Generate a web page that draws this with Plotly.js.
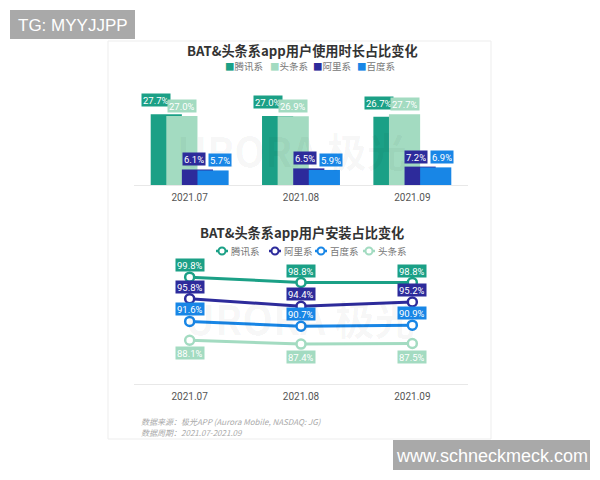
<!DOCTYPE html>
<html>
<head>
<meta charset="utf-8">
<script src="https://cdn.plot.ly/plotly-3.0.1.min.js"></script>
<style>html,body{margin:0;padding:0;background:#fff;}#chart{width:600px;height:480px;}</style>
</head>
<body>
<div id="chart"></div>
<script>
// ---- data ----
const months = ['2021.07', '2021.08', '2021.09'];
const durNames = ['腾讯系', '头条系', '阿里系', '百度系'];
const durTencent = [27.7, 27.0, 26.7];
const durToutiao = [27.0, 26.9, 27.7];
const durAli = [6.1, 6.5, 7.2];
const durBaidu = [5.7, 5.9, 6.9];
const instNames = ['腾讯系', '阿里系', '百度系', '头条系'];
const instTencent = [99.8, 98.8, 98.8];
const instAli = [95.8, 94.4, 95.2];
const instBaidu = [91.6, 90.7, 90.9];
const instToutiao = [88.1, 87.4, 87.5];
const title1 = 'BAT&头条系app用户使用时长占比变化';
const title2 = 'BAT&头条系app用户安装占比变化';
const source1 = '数据来源：极光APP (Aurora Mobile, NASDAQ: JG)';
const source2 = '数据周期：2021.07-2021.09';

// ---- styles ----
const C = {tencent: '#1ba086', toutiao: '#a3dbc1', ali: '#2d2b9b', baidu: '#1886e6'};
const W = 600, H = 480;
const px = x => x / W, py = y => 1 - y / H;
const xs = months.map((m, i) => i);
const CJK = '"Noto Sans CJK SC", "Noto Sans", sans-serif';
const NUM = 'Roboto, "Noto Sans", sans-serif';

const durSeries = [
  {name: durNames[0], vals: durTencent, color: C.tencent, offset: -0.35, lab: -0.30, ys: 7},
  {name: durNames[1], vals: durToutiao, color: C.toutiao, offset: -0.21, lab: -0.07, ys: 3},
  {name: durNames[2], vals: durAli, color: C.ali, offset: -0.07, lab: 0.035, ys: 3},
  {name: durNames[3], vals: durBaidu, color: C.baidu, offset: 0.07, lab: 0.27, ys: 3}
];
const instSeries = [
  {name: instNames[0], vals: instTencent, color: C.tencent, ys: 12},
  {name: instNames[1], vals: instAli, color: C.ali, ys: 12},
  {name: instNames[2], vals: instBaidu, color: C.baidu, ys: 12},
  {name: instNames[3], vals: instToutiao, color: C.toutiao, ys: -13}
];

const traces = [];
const annotations = [];
const shapes = [];

function paperText(x, y, text, font, xanchor) {
  annotations.push({xref: 'paper', yref: 'paper', x: px(x), y: py(y), text: text, showarrow: false,
    xanchor: xanchor || 'center', yanchor: 'middle', font: font});
}

// card background
shapes.push({type: 'rect', xref: 'paper', yref: 'paper', x0: px(108), x1: px(491), y0: py(439), y1: py(41),
  fillcolor: '#ffffff', line: {color: '#ededed', width: 1}, layer: 'below'});

// watermarks (faint logo text)
paperText(292, 150, 'URORA 极光', {family: CJK, size: 40, color: 'rgba(0,0,0,0.04)', weight: 'bold'});
paperText(300, 318, 'URORA 极光', {family: CJK, size: 40, color: 'rgba(0,0,0,0.04)', weight: 'bold'});

durSeries.forEach(s => {
  traces.push({type: 'bar', x: xs, y: s.vals, name: s.name, width: 0.28, offset: s.offset,
    marker: {color: s.color}, xaxis: 'x', yaxis: 'y', hoverinfo: 'skip', showlegend: false});
  s.vals.forEach((v, i) => {
    annotations.push({xref: 'x', yref: 'y', x: xs[i] + s.lab, y: v, xanchor: 'center', yanchor: 'bottom', yshift: s.ys,
      text: v.toFixed(1) + '%', showarrow: false, bgcolor: s.color, borderpad: 1, height: 10,
      font: {family: NUM, size: 9.5, color: '#ffffff'}});
  });
});

instSeries.forEach(s => {
  traces.push({type: 'scatter', mode: 'lines+markers', x: xs, y: s.vals, name: s.name,
    line: {color: s.color, width: 3}, cliponaxis: false,
    marker: {symbol: 'circle', size: 9, color: '#ffffff', line: {color: s.color, width: 2.5}},
    xaxis: 'x2', yaxis: 'y2', hoverinfo: 'skip', showlegend: false});
});
instSeries.forEach(s => {
  s.vals.forEach((v, i) => {
    annotations.push({xref: 'x2', yref: 'y2', x: xs[i], y: v, xanchor: 'center', yanchor: 'middle', yshift: s.ys,
      text: v.toFixed(1) + '%', showarrow: false, bgcolor: s.color, borderpad: 1, height: 10,
      font: {family: NUM, size: 9.5, color: '#ffffff'}});
  });
});

// titles
paperText(302, 51, '<b>' + title1.replace('&', '&amp;') + '</b>', {family: CJK, size: 13.2, color: '#333333'});
paperText(302, 233, '<b>' + title2.replace('&', '&amp;') + '</b>', {family: CJK, size: 13.2, color: '#333333'});

// top legend (square swatches)
const topLegX = [223, 268, 311, 355];
durSeries.forEach((s, k) => {
  paperText(topLegX[k], 66, '<span style="color:' + s.color + '">■</span>' + s.name,
    {family: CJK, size: 9.5, color: '#777777'}, 'left');
});
// bottom legend (line + hollow circle)
const botLegX = [216, 269, 315, 363];
instSeries.forEach((s, k) => {
  const x0 = botLegX[k], y0 = 251;
  shapes.push({type: 'line', xref: 'paper', yref: 'paper', x0: px(x0), x1: px(x0 + 12), y0: py(y0), y1: py(y0),
    line: {color: s.color, width: 2.5}});
  shapes.push({type: 'circle', xref: 'paper', yref: 'paper', x0: px(x0 + 2.5), x1: px(x0 + 9.5), y0: py(y0 + 3.5), y1: py(y0 - 3.5),
    fillcolor: '#ffffff', line: {color: s.color, width: 2}});
  paperText(x0 + 13, y0, s.name, {family: CJK, size: 9.5, color: '#777777'}, 'left');
});

// source notes
paperText(139, 421, source1, {family: CJK, size: 8, color: '#aaaaaa', style: 'italic'}, 'left');
paperText(139, 432, source2, {family: CJK, size: 8, color: '#aaaaaa', style: 'italic'}, 'left');

// overlay tags
shapes.push({type: 'rect', xref: 'paper', yref: 'paper', x0: px(10), x1: px(135), y0: py(39), y1: py(10),
  fillcolor: '#a9a9a9', line: {width: 0}, layer: 'above'});
shapes.push({type: 'rect', xref: 'paper', yref: 'paper', x0: px(393), x1: px(590), y0: py(470), y1: py(440),
  fillcolor: '#a9a9a9', line: {width: 0}, layer: 'above'});
paperText(72.5, 25, 'TG: MYYJJPP', {family: '"Liberation Sans", Arial, sans-serif', size: 17, color: '#ffffff'});
paperText(491.5, 455.5, 'www.schneckmeck.com', {family: '"Liberation Sans", Arial, sans-serif', size: 18, color: '#ffffff'});

const xAxisBase = {
  range: [-0.5, 2.5], tickvals: xs, ticktext: months, showgrid: false, zeroline: false,
  showline: true, linecolor: '#e8e8e8', linewidth: 1, ticks: '', fixedrange: true,
  tickfont: {family: NUM, size: 10, color: '#555555'}, ticklabelstandoff: 3,
  domain: [px(134), px(468)]
};

const layout = {
  width: W, height: H,
  margin: {l: 0, r: 0, t: 0, b: 0},
  paper_bgcolor: '#ffffff', plot_bgcolor: 'rgba(0,0,0,0)',
  barmode: 'overlay',
  showlegend: false,
  xaxis: Object.assign({}, xAxisBase, {anchor: 'y'}),
  yaxis: {domain: [py(185), py(90)], range: [0, 37.2], visible: false, fixedrange: true},
  xaxis2: Object.assign({}, xAxisBase, {anchor: 'y2'}),
  yaxis2: {domain: [py(384), py(255)], range: [80, 103.9], visible: false, fixedrange: true},
  annotations: annotations,
  shapes: shapes
};

Plotly.newPlot('chart', traces, layout, {displayModeBar: false, staticPlot: true});
</script>
</body>
</html>
